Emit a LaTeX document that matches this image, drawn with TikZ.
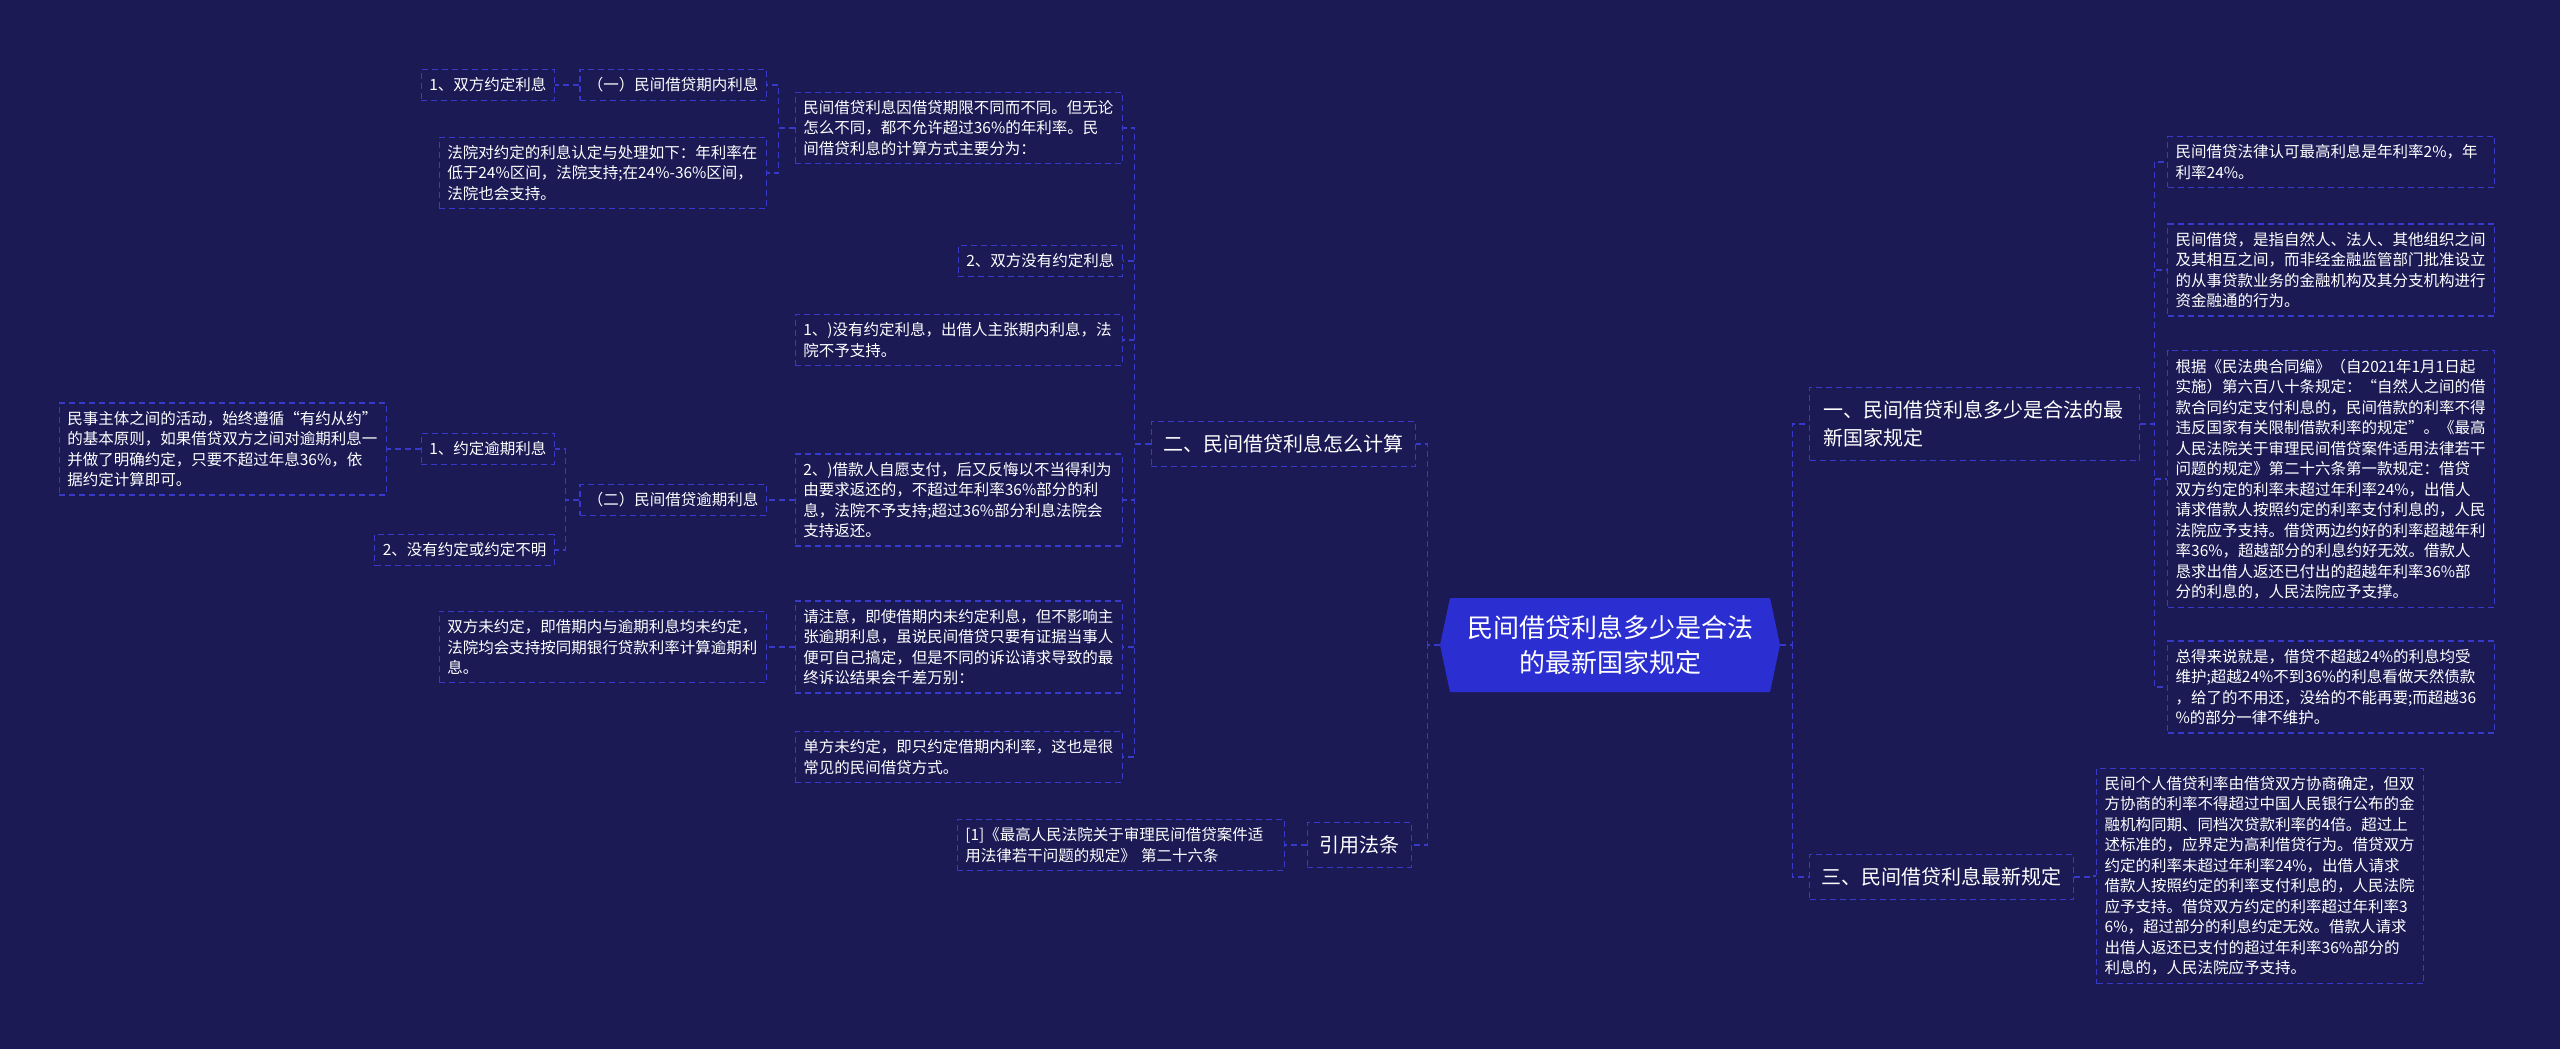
\documentclass[tikz,border=0pt]{standalone}
\usepackage{fontspec}
\setmainfont{Noto Sans CJK SC}
\usepackage{xcolor}
\usepackage{tikz}
\usetikzlibrary{positioning,shapes.symbols}

\definecolor{bgnavy}{HTML}{1B1A55}
\definecolor{rootblue}{HTML}{2B2FD1}
\definecolor{dashblue}{HTML}{3739C8}

\begin{document}
\begin{tikzpicture}[
    x=1pt, y=-1pt,
    leaf/.style={rectangle, draw=dashblue, line width=1.3pt, dash pattern=on 6pt off 4pt, text=white, align=left, inner xsep=8pt, inner ysep=8pt, font=\fontsize{15.5}{20.5}\selectfont},
    note/.style={leaf, text width=311pt},
    topic/.style={leaf, inner xsep=12pt, inner ysep=13pt, font=\fontsize{20}{28}\selectfont},
    hub/.style={signal, signal to=west and east, signal pointer angle=156, fill=rootblue, text=white, align=center, minimum width=340pt, minimum height=94pt, font=\fontsize{26}{35}\selectfont},
    link/.style={draw=dashblue, line width=1.3pt, dash pattern=on 6pt off 4pt}
]

% Background
\fill[bgnavy] (0,0) rectangle (2560,1049);
\useasboundingbox (0,0) rectangle (2560,1049);

% Root
\node[hub] (root) at (1610,645) {民间借贷利息多少是合法\\的最新国家规定};

% Left topics
\node[topic, anchor=east] (calc) at (1416,444) {二、民间借贷利息怎么计算};
\node[topic, anchor=east] (cite) at (1412,845) {引用法条};

% Right topics
\node[topic, anchor=west, text width=302pt, inner xsep=14pt] (legal) at (1809,424) {一、民间借贷利息多少是合法的最\\新国家规定};
\node[topic, anchor=west] (latest) at (1809,877) {三、民间借贷利息最新规定};

% Children of calc
\node[note, anchor=east] (span) at (1123,128) {民间借贷利息因借贷期限不同而不同。但无论\\怎么不同，都不允许超过36\%的年利率。民\\间借贷利息的计算方式主要分为：};
\node[leaf, anchor=east] (noagree) at (1123,261) {2、双方没有约定利息};
\node[note, anchor=east] (nointr) at (1123,340) {1、)没有约定利息，出借人主张期内利息，法\\院不予支持。};
\node[note, anchor=east] (repay) at (1123,500) {2、)借款人自愿支付，后又反悔以不当得利为\\由要求返还的，不超过年利率36\%部分的利\\息，法院不予支持;超过36\%部分利息法院会\\支持返还。};
\node[note, anchor=east] (notice) at (1123,647) {请注意，即使借期内未约定利息，但不影响主\\张逾期利息，虽说民间借贷只要有证据当事人\\便可自己搞定，但是不同的诉讼请求导致的最\\终诉讼结果会千差万别：};
\node[note, anchor=east] (oneside) at (1123,757) {单方未约定，即只约定借期内利率，这也是很\\常见的民间借贷方式。};

% Third level
\node[leaf, anchor=east] (inperiod) at (767,85) {（一）民间借贷期内利息};
\node[note, anchor=east] (court) at (767,173) {法院对约定的利息认定与处理如下：年利率在\\低于24\%区间，法院支持;在24\%-36\%区间，\\法院也会支持。};
\node[leaf, anchor=east] (overdue) at (767,500) {（二）民间借贷逾期利息};
\node[note, anchor=east] (bothnone) at (767,647) {双方未约定，即借期内与逾期利息均未约定，\\法院均会支持按同期银行贷款利率计算逾期利\\息。};

% Fourth and fifth level
\node[leaf, anchor=east] (agreed) at (555,85) {1、双方约定利息};
\node[leaf, anchor=east] (agreedod) at (555,449) {1、约定逾期利息};
\node[leaf, anchor=east] (unclear) at (555,550) {2、没有约定或约定不明};
\node[note, anchor=east] (civil) at (387,449) {民事主体之间的活动，始终遵循“有约从约”\\的基本原则，如果借贷双方之间对逾期利息一\\并做了明确约定，只要不超过年息36\%，依\\据约定计算即可。};

% Citation
\node[note, anchor=east] (article) at (1285,845) {[1]《最高人民法院关于审理民间借贷案件适\\用法律若干问题的规定》 第二十六条};

% Children of legal
\node[note, anchor=west] (maxrate) at (2167,162) {民间借贷法律认可最高利息是年利率2\%，年\\利率24\%。};
\node[note, anchor=west] (define) at (2167,270) {民间借贷，是指自然人、法人、其他组织之间\\及其相互之间，而非经金融监管部门批准设立\\的从事贷款业务的金融机构及其分支机构进行\\资金融通的行为。};
\node[note, anchor=west] (code) at (2167,479) {根据《民法典合同编》（自2021年1月1日起\\实施）第六百八十条规定：“自然人之间的借\\款合同约定支付利息的，民间借款的利率不得\\违反国家有关限制借款利率的规定”。《最高\\人民法院关于审理民间借贷案件适用法律若干\\问题的规定》第二十六条第一款规定：借贷\\双方约定的利率未超过年利率24\%，出借人\\请求借款人按照约定的利率支付利息的，人民\\法院应予支持。借贷两边约好的利率超越年利\\率36\%，超越部分的利息约好无效。借款人\\恳求出借人返还已付出的超越年利率36\%部\\分的利息的，人民法院应予支撑。};
\node[note, anchor=west] (summary) at (2167,687) {总得来说就是，借贷不超越24\%的利息均受\\维护;超越24\%不到36\%的利息看做天然债款\\，给了的不用还，没给的不能再要;而超越36\\\%的部分一律不维护。};

% Child of latest
\node[note, anchor=west] (personal) at (2096,876) {民间个人借贷利率由借贷双方协商确定，但双\\方协商的利率不得超过中国人民银行公布的金\\融机构同期、同档次贷款利率的4倍。超过上\\述标准的，应界定为高利借贷行为。借贷双方\\约定的利率未超过年利率24\%，出借人请求\\借款人按照约定的利率支付利息的，人民法院\\应予支持。借贷双方约定的利率超过年利率3\\6\%，超过部分的利息约定无效。借款人请求\\出借人返还已支付的超过年利率36\%部分的\\利息的，人民法院应予支持。};

% Connectors
\foreach \c in {calc,cite}
  \draw[link] (root.west) -- ++(-12,0) |- (\c.east);
\foreach \c in {legal,latest}
  \draw[link] (root.east) -- ++(12,0) |- (\c.west);
\foreach \c in {span,noagree,nointr,repay,notice,oneside}
  \draw[link] (calc.west) -- ++(-16,0) |- (\c.east);
\foreach \c in {inperiod,court}
  \draw[link] (span.west) -- ++(-16,0) |- (\c.east);
\draw[link] (repay.west) -- (overdue.east);
\draw[link] (notice.west) -- (bothnone.east);
\draw[link] (inperiod.west) -- (agreed.east);
\foreach \c in {agreedod,unclear}
  \draw[link] (overdue.west) -- ++(-14,0) |- (\c.east);
\draw[link] (agreedod.west) -- (civil.east);
\draw[link] (cite.west) -- (article.east);
\foreach \c in {maxrate,define,code,summary}
  \draw[link] (legal.east) -- ++(14,0) |- (\c.west);
\draw[link] (latest.east) -- ++(15,0) |- (personal.west);

\end{tikzpicture}
\end{document}
